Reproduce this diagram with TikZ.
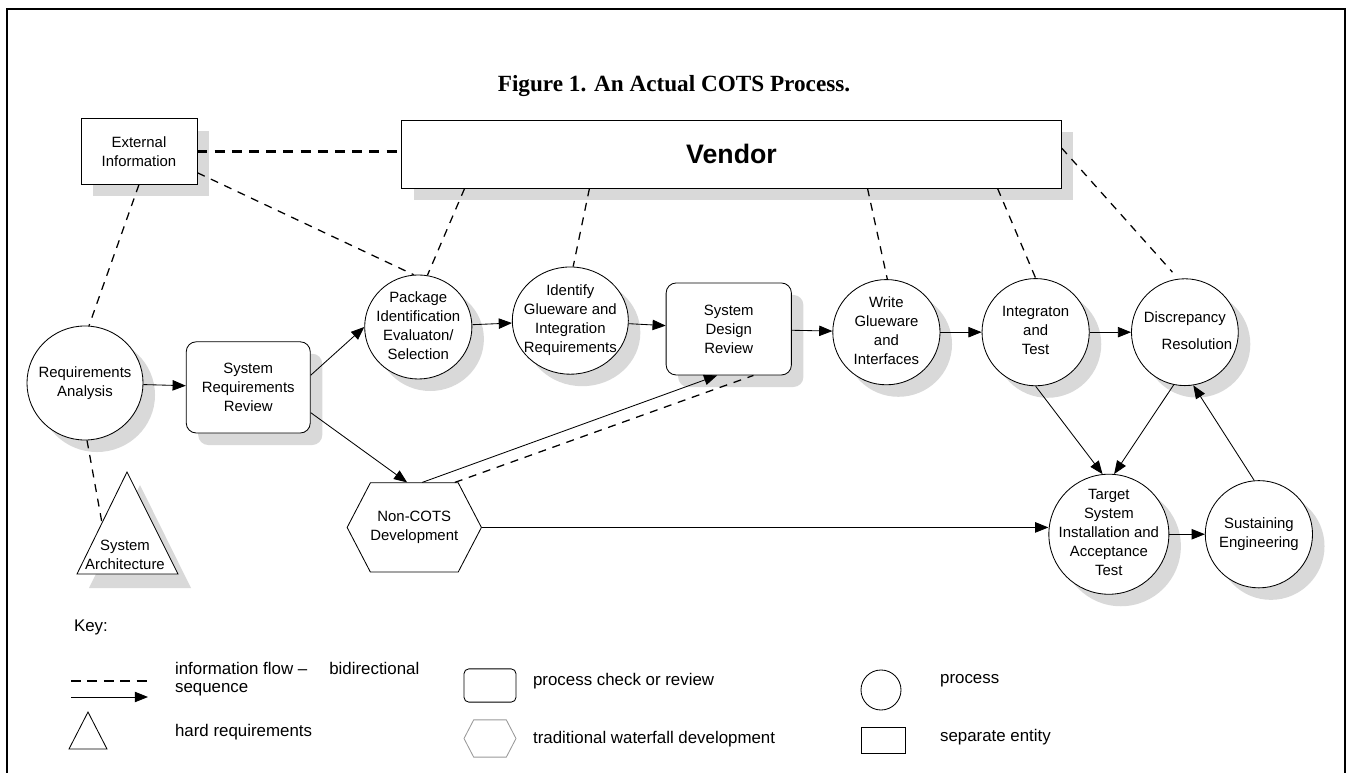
\documentclass[tikz,border=0pt]{standalone}
\usepackage{fontspec}
\setmainfont{Liberation Sans}
\newfontfamily\serifbold{Liberation Serif}
\usetikzlibrary{positioning, arrows.meta, shapes.geometric, shapes.symbols, shadows, calc}

% text of a process bubble, kept out of the node size
\newcommand{\stk}[1]{\smash{\makebox[0pt]{\raisebox{-0.25em}{\begin{tabular}{@{}c@{}}#1\end{tabular}}}}}

\begin{document}
\begin{tikzpicture}[x=0.025cm, y=-0.025cm, on grid, line width=0.6pt,
    >={Triangle[length=0.33cm, width=0.26cm]},
    font=\fontsize{10.6}{13.5}\selectfont,
    shadowed/.style={drop shadow={shadow xshift=0.3cm, shadow yshift=-0.3cm, fill=black!15, opacity=1}},
    proc/.style={ellipse, draw, fill=white, inner sep=0pt, shadowed},
    review/.style={rectangle, rounded corners=0.25cm, draw, fill=white, align=center, shadowed},
    entity/.style={rectangle, draw, fill=white, align=center, shadowed},
    waterfall/.style={signal, signal to=west and east, signal pointer angle=125, inner xsep=0pt, draw, fill=white, align=center},
    info/.style={dash pattern=on 0.2cm off 0.17cm, line width=0.9pt},
    keytext/.style={anchor=west, font=\fontsize{12}{14}\selectfont}]
    \useasboundingbox (0,0) rectangle (1349,773);
    \draw[line width=1.4pt] (7,773) -- (7,9) -- (1345,9) -- (1345,773);

    \node[font=\serifbold\bfseries\fontsize{16.5}{20}\selectfont] (title) at (674,86) {Figure 1. An Actual COTS Process.};

    \node[entity, minimum width=2.9cm, minimum height=1.63cm] (ext) at (139,151.5) {External\\Information};
    \node[entity, minimum width=16.48cm, minimum height=1.7cm, font=\fontsize{19}{22}\bfseries\selectfont] (vendor) at (731.5,154) {Vendor};

    \node[proc, minimum width=2.9cm, minimum height=2.85cm] (ra) at (85,383) {\stk{Requirements\\Analysis}};
    \node[review, minimum width=3.1cm, minimum height=2.28cm] (srr) [below right=0.11cm and 4.08cm of ra] {System\\Requirements\\Review};
    \node[proc, minimum width=2.68cm, minimum height=2.6cm] (pkg) [above right=1.51cm and 4.25cm of srr] {\stk{Package\\Identification\\Evaluaton/\\Selection}};
    \node[proc, minimum width=2.9cm, minimum height=2.68cm] (glue) [above right=0.16cm and 3.8cm of pkg] {\stk{Identify\\Glueware and\\Integration\\Requirements}};
    \node[review, minimum width=3.13cm, minimum height=2.3cm] (sdr) [below right=0.21cm and 3.96cm of glue] {System\\Design\\Review};
    \node[proc, minimum width=2.68cm, minimum height=2.63cm] (write) [below right=0.08cm and 3.94cm of sdr] {\stk{Write\\Glueware\\and\\Interfaces}};
    \node[proc, minimum size=2.68cm] (integ) [right=3.73cm of write] {\stk{Integraton\\and\\Test}};
    \node[proc, minimum size=2.67cm] (disc) [right=3.73cm of integ] {\stk{Discrepancy\\[5.7pt]\hspace*{0.6cm}Resolution}};
    \node[proc, minimum size=3cm] (target) [below right=5.05cm and 1.83cm of integ] {\stk{Target\\System\\Installation and\\Acceptance\\Test}};
    \node[proc, minimum size=2.68cm] (sust) [right=3.75cm of target] {\stk{Sustaining\\Engineering}};
    \node[waterfall, minimum width=3.3cm, minimum height=2.23cm] (noncots) [below right=3.5cm and 4.15cm of srr] {Non-COTS\\Development};

    % hard requirement triangle
    \coordinate (archtop) at (127,472);
    \coordinate (archl) at (77,574);
    \coordinate (archr) at (178,574);
    \coordinate (archmid) at ($(archtop)!0.5!(archl)$);
    \fill[black!15] (140,485) -- (89,588) -- (191,588) -- cycle;
    \draw[fill=white] (archtop) -- (archl) -- (archr) -- cycle;
    \node[align=center] (arch) at (125,555) {System\\Architecture};

    \path[->]
        (ra) edge (srr)
        (srr.11) edge (pkg.west)
        (srr.-22) edge (noncots.99)
        (pkg) edge (glue)
        (glue) edge (sdr)
        (sdr) edge (write)
        (write) edge (integ)
        (integ) edge (disc)
        (noncots.80) edge (sdr.256)
        (integ.south) edge (target.96)
        (disc.258) edge (target.85)
        (target) edge (sust)
        (sust.95) edge (disc.-81);
    \draw[->] (noncots.east) -- (noncots.east -| target.west);

    \draw[line width=2pt, dash pattern=on 0.25cm off 0.18cm] (ext.east) -- (ext.east -| vendor.west);
    \path[info]
        (ext.south) edge (ra.86)
        (ext.-20) edge (pkg.95)
        ([xshift=1.58cm]vendor.south west) edge (pkg.80)
        ([xshift=4.7cm]vendor.south west) edge (glue.87)
        ([xshift=11.65cm]vendor.south west) edge (write.89)
        ([xshift=14.9cm]vendor.south west) edge (integ.90)
        ([yshift=0.15cm]vendor.east) edge[shorten >=0.22cm] (disc.97)
        (noncots.48) edge (sdr.298)
        (ra.-88) edge (archmid);

    % key
    \node[keytext] (key) at (69,627) {Key:};
    \coordinate (kd1) at (71,681);
    \coordinate (kd2) at (147,681);
    \draw[line width=1.4pt, dash pattern=on 0.25cm off 0.16cm] (kd1) -- (kd2);
    \node[keytext] (kinfo) at (170,668) {information flow –\hspace{0.55cm}bidirectional};
    \node[keytext] (kseq) at (170,690) {sequence};
    \coordinate (ka1) at (71,697);
    \coordinate (ka2) at (148,697);
    \draw[->] (ka1) -- (ka2);
    \draw (88,712) -- (69,749) -- (107,749) -- cycle;
    \node[keytext] (khard) at (170,732) {hard requirements};
    \node[draw, rounded corners=0.12cm, minimum width=1.3cm, minimum height=0.83cm] (kreview) at (490,685.5) {};
    \node[keytext] (kreviewt) at (528,681) {process check or review};
    \node[waterfall, draw=black!40, minimum width=1.3cm, minimum height=0.93cm] (kwater) at (490,738.5) {};
    \node[keytext] (kwatert) at (528,739) {traditional waterfall development};
    \node[draw, circle, minimum size=1cm] (kproc) at (881,690) {};
    \node[keytext] (kproct) at (935,681) {process};
    \node[draw, minimum width=1.08cm, minimum height=0.65cm] (kent) at (883.5,740) {};
    \node[keytext] (kentt) at (935,737) {separate entity};
\end{tikzpicture}
\end{document}
